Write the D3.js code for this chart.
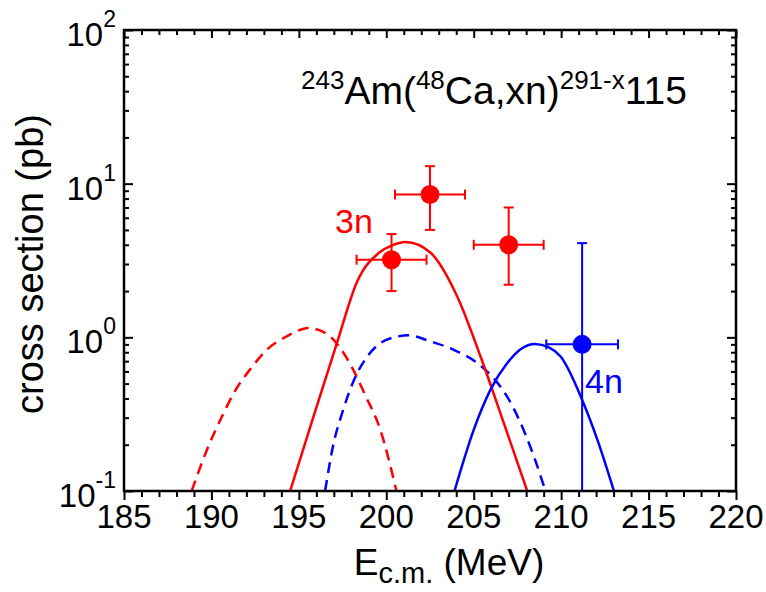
<!DOCTYPE html>
<html>
<head>
<meta charset="utf-8">
<script src="https://cdn.jsdelivr.net/npm/d3@7"></script>
<style>
  body { margin: 0; background: #fff; }
  text { font-family: "Liberation Sans", Arial, sans-serif; }
</style>
</head>
<body>
<div class="canvas"></div>
<script>
// measured points (cross section in pb vs E c.m. in MeV)
const ptE3n = [200.3, 202.5, 207.0];
const ptS3n = [3.2, 8.5, 4.0];
const ptSLo3n = [2.0, 5.0, 2.2];
const ptSHi3n = [4.7, 13.0, 7.0];
const ptEErr3n = [2.0, 2.0, 2.0];

const ptE4n = [211.2];
const ptS4n = [0.9];
const ptSLo4n = [0.1];
const ptSHi4n = [4.1];
const ptEErr4n = [2.05];

// calculated curves
const solid3nE = [194.5, 195.84, 197.18, 198.33, 199.66, 200.3, 201.1, 202.53, 204.05, 205.39, 206.72, 208.06];
const solid3nS = [0.1, 0.306, 0.92, 2.3, 3.6, 3.95, 4.17, 3.55, 1.85, 0.75, 0.277, 0.1];

const dash3nE = [188.87, 189.74, 190.6, 191.36, 192.22, 193.27, 194.13, 195.0, 195.5, 196.0, 196.8, 197.75, 198.8, 199.66, 200.58];
const dash3nS = [0.1, 0.185, 0.305, 0.45, 0.62, 0.85, 0.99, 1.11, 1.15, 1.13, 1.01, 0.73, 0.42, 0.25, 0.1];

const solid4nE = [203.9, 205.0, 205.96, 206.92, 207.7, 208.5, 209.3, 209.97, 211.21, 212.07, 213.02];
const solid4nS = [0.1, 0.25, 0.457, 0.68, 0.84, 0.905, 0.86, 0.75, 0.39, 0.216, 0.1];

const dash4nE = [196.5, 196.99, 197.47, 198.13, 198.99, 200.04, 201.28, 202.53, 203.86, 205.2, 206.15, 206.92, 207.68, 208.44, 209.1];
const dash4nS = [0.1, 0.205, 0.32, 0.52, 0.77, 0.966, 1.03, 0.94, 0.83, 0.68, 0.54, 0.41, 0.277, 0.168, 0.1];

const xTicks = [185, 190, 195, 200, 205, 210, 215, 220];
const yTicks = [0.1, 1, 10, 100];
const yExp = ['-1', '0', '1', '2'];

const dims = { width: 766, height: 592 };
const plot = { left: 124, right: 736, top: 30, bottom: 491 };

const svg = d3.select('.canvas').append('svg')
  .attr('width', dims.width)
  .attr('height', dims.height);

const x = d3.scaleLinear().domain([185, 220]).range([plot.left, plot.right]);
const y = d3.scaleLog().domain([0.1, 100]).range([plot.bottom, plot.top]);

svg.append('clipPath').attr('id', 'clip')
  .append('rect')
  .attr('x', plot.left).attr('y', plot.top)
  .attr('width', plot.right - plot.left).attr('height', plot.bottom - plot.top);

// minor tick values
const xMinor = d3.range(185, 221, 1).filter(v => v % 5 !== 0);
const yMinor = [];
[0.1, 1, 10].forEach(dec => { for (let k = 2; k <= 9; k++) yMinor.push(dec * k); });

const tickAxis = (axis, tx, ty) => {
  const g = svg.append('g')
    .attr('transform', `translate(${tx}, ${ty})`)
    .call(axis);
  g.select('.domain').remove();
  g.selectAll('line').attr('stroke', '#000').attr('stroke-width', 2);
  g.selectAll('text').remove();
  return g;
};

// bottom: outward ticks
tickAxis(d3.axisBottom(x).tickValues(xTicks).tickSize(9), 0, plot.bottom);
tickAxis(d3.axisBottom(x).tickValues(xMinor).tickSize(6), 0, plot.bottom);
// top: inward
tickAxis(d3.axisBottom(x).tickValues(xTicks).tickSize(8), 0, plot.top);
tickAxis(d3.axisBottom(x).tickValues(xMinor).tickSize(5), 0, plot.top);
// left / right: inward
tickAxis(d3.axisRight(y).tickValues(yTicks).tickSize(9), plot.left, 0);
tickAxis(d3.axisRight(y).tickValues(yMinor).tickSize(5), plot.left, 0);
tickAxis(d3.axisLeft(y).tickValues(yTicks).tickSize(9), plot.right, 0);
tickAxis(d3.axisLeft(y).tickValues(yMinor).tickSize(5), plot.right, 0);

// x tick labels
svg.append('g').selectAll('text')
  .data(xTicks)
  .enter().append('text')
  .attr('x', d => x(d))
  .attr('y', plot.bottom + 37)
  .attr('text-anchor', 'middle')
  .attr('font-size', 33)
  .text(d => d);

// y tick labels 10^n
const yl = svg.append('g').selectAll('text')
  .data(yTicks)
  .enter().append('text')
  .attr('x', plot.left - 8)
  .attr('y', d => y(d) + 16)
  .attr('text-anchor', 'end')
  .attr('font-size', 33);
yl.append('tspan').text('10');
yl.append('tspan').attr('dy', -19).attr('font-size', 23).text((d, i) => yExp[i]);

// axis titles
svg.append('text')
  .attr('transform', `translate(43, 264) rotate(-90)`)
  .attr('text-anchor', 'middle')
  .attr('font-size', 38)
  .text('cross section (pb)');

const xt = svg.append('text')
  .attr('x', 449)
  .attr('y', 575)
  .attr('text-anchor', 'middle')
  .attr('font-size', 37);
xt.append('tspan').text('E');
xt.append('tspan').attr('dy', 8).attr('font-size', 29).text('c.m.');
xt.append('tspan').attr('dy', -8).text('  (MeV)');

// reaction label
const title = svg.append('text')
  .attr('x', 301)
  .attr('y', 104)
  .attr('font-size', 39);
title.append('tspan').attr('dy', -15).attr('font-size', 26).text('243');
title.append('tspan').attr('dy', 15).text('Am(');
title.append('tspan').attr('dy', -15).attr('font-size', 26).text('48');
title.append('tspan').attr('dy', 15).text('Ca,xn)');
title.append('tspan').attr('dy', -15).attr('font-size', 26).text('291-x');
title.append('tspan').attr('dy', 15).text('115');

// curves
const line = d3.line()
  .x(d => x(d[0]))
  .y(d => y(d[1]))
  .curve(d3.curveMonotoneX);

const curves = [
  { e: dash3nE, s: dash3nS, colour: 'red', dash: '11,7' },
  { e: dash4nE, s: dash4nS, colour: 'blue', dash: '11,7' },
  { e: solid3nE, s: solid3nS, colour: 'red', dash: null },
  { e: solid4nE, s: solid4nS, colour: 'blue', dash: null }
];

const graph = svg.append('g').attr('clip-path', 'url(#clip)');

graph.selectAll('path.curve')
  .data(curves)
  .enter().append('path')
  .attr('class', 'curve')
  .attr('d', c => line(d3.zip(c.e, c.s)))
  .attr('fill', 'none')
  .attr('stroke', c => c.colour)
  .attr('stroke-width', 2.5)
  .attr('stroke-dasharray', c => c.dash);

// data points with error bars
const drawPoints = (E, S, lo, hi, ex, colour) => {
  const pts = E.map((e, i) => ({ e, s: S[i], lo: lo[i], hi: hi[i], ex: ex[i] }));
  const g = graph.append('g').attr('stroke', colour).attr('stroke-width', 2);
  const cap = 5;
  pts.forEach(p => {
    const cx = x(p.e), cy = y(p.s);
    const x0 = x(p.e - p.ex), x1 = x(p.e + p.ex);
    const y0 = y(p.lo), y1 = y(p.hi);
    g.append('line').attr('x1', x0).attr('x2', x1).attr('y1', cy).attr('y2', cy);
    g.append('line').attr('x1', cx).attr('x2', cx).attr('y1', y0).attr('y2', y1);
    g.append('line').attr('x1', x0).attr('x2', x0).attr('y1', cy - cap).attr('y2', cy + cap);
    g.append('line').attr('x1', x1).attr('x2', x1).attr('y1', cy - cap).attr('y2', cy + cap);
    g.append('line').attr('x1', cx - cap).attr('x2', cx + cap).attr('y1', y0).attr('y2', y0);
    g.append('line').attr('x1', cx - cap).attr('x2', cx + cap).attr('y1', y1).attr('y2', y1);
  });
  g.selectAll('circle')
    .data(pts)
    .enter().append('circle')
    .attr('cx', p => x(p.e))
    .attr('cy', p => y(p.s))
    .attr('r', 9.5)
    .attr('fill', colour)
    .attr('stroke', 'none');
};

drawPoints(ptE3n, ptS3n, ptSLo3n, ptSHi3n, ptEErr3n, 'red');
drawPoints(ptE4n, ptS4n, ptSLo4n, ptSHi4n, ptEErr4n, 'blue');

// channel labels
svg.append('text').attr('x', 335).attr('y', 233).attr('font-size', 34).attr('fill', 'red').text('3n');
svg.append('text').attr('x', 585).attr('y', 393).attr('font-size', 34).attr('fill', 'blue').text('4n');

// frame
svg.append('rect')
  .attr('x', plot.left).attr('y', plot.top)
  .attr('width', plot.right - plot.left).attr('height', plot.bottom - plot.top)
  .attr('fill', 'none')
  .attr('stroke', '#000')
  .attr('stroke-width', 2.5);
</script>
</body>
</html>
